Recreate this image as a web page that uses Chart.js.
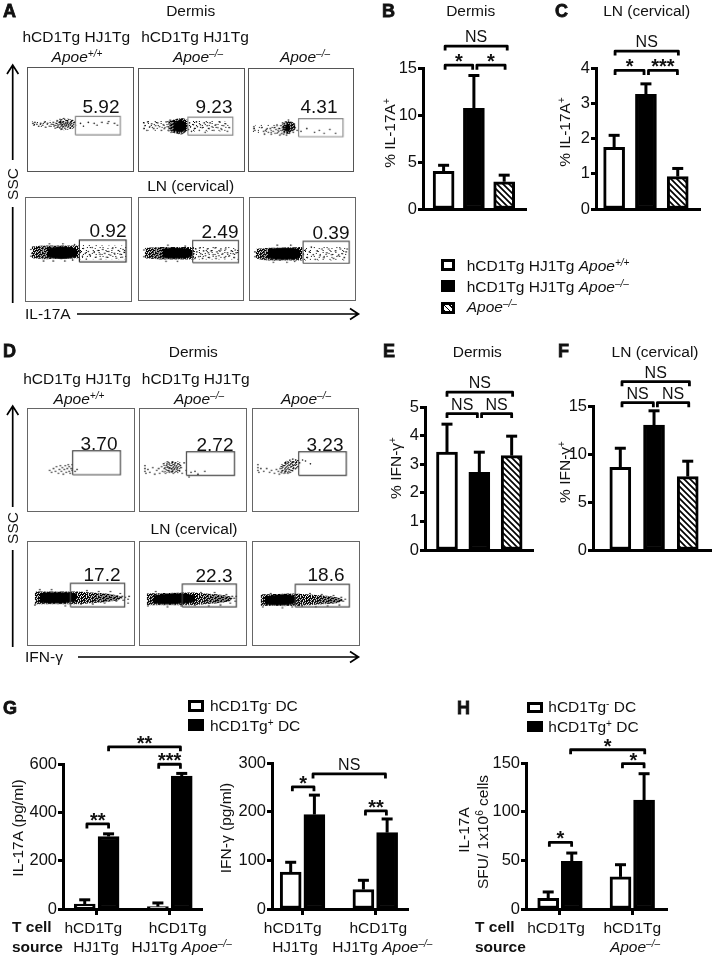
<!DOCTYPE html>
<html>
<head>
<meta charset="utf-8">
<script src="https://cdn.jsdelivr.net/npm/chart.js@4"></script>
<style>
  html, body { margin: 0; background: #fff; }
  #page { position: relative; width: 713px; height: 960px; overflow: hidden; font-family: "Liberation Sans", Arial, sans-serif; color: #111; }
  canvas { position: absolute; }
  .t { position: absolute; white-space: nowrap; line-height: 1; font-size: 15.5px; z-index: 5; }
  .t sup { font-size: 65%; line-height: 0; vertical-align: 0.5em; }
  .letter { font-weight: bold; font-size: 18px; -webkit-text-stroke: 0.8px #111; }
  .sw { position: absolute; box-sizing: border-box; border: 3px solid #000; background: #fff; }
  svg { position: absolute; left: 0; top: 0; z-index: 4; }
</style>
</head>
<body>
<div id="page">
<svg width="713" height="960" fill="none" stroke="#000" stroke-width="1.7">
  <path d="M12.7 303V207M12.7 160V66M7 74L12.7 65L18.4 74"/>
  <path d="M77 314H358M350 308.5L358.5 314L350 319.5"/>
  <path d="M12.7 647V550M12.7 507V407M7 415L12.7 406L18.4 415"/>
  <path d="M78 657H358M350 651.5L358.5 657L350 662.5"/>
</svg>
</div>
<script>
const page = document.getElementById('page');

// bar values and error bar tops
const tickIl17Dermis = [0, 5, 10, 15];
const il17Dermis = [4.0, 10.7, 2.9];
const il17DermisErr = [4.65, 14.2, 3.6];

const tickIl17Ln = [0, 1, 2, 3, 4];
const il17Ln = [1.75, 3.25, 0.92];
const il17LnErr = [2.09, 3.55, 1.15];

const tickIfnDermis = [0, 1, 2, 3, 4, 5];
const ifnDermis = [3.42, 2.72, 3.3];
const ifnDermisErr = [4.4, 3.42, 3.98];

const tickIfnLn = [0, 5, 10, 15];
const ifnLn = [8.6, 13.0, 7.65];
const ifnLnErr = [10.6, 14.5, 9.25];

const tickIl17Pg = [0, 200, 400, 600];
const il17PgNeg = [20, 10];
const il17PgNegErr = [38, 25];
const il17PgPos = [300, 550];
const il17PgPosErr = [311, 561];

const tickIfnPg = [0, 100, 200, 300];
const ifnPgNeg = [76, 40];
const ifnPgNegErr = [96, 59];
const ifnPgPos = [194, 157];
const ifnPgPosErr = [234, 185];

const tickSfu = [0, 50, 100, 150];
const sfuNeg = [11, 33];
const sfuNegErr = [17.5, 45.5];
const sfuPos = [49, 112];
const sfuPosErr = [57.5, 139];

// flow plots, x and y in percent of the plot
const a1Dots = [[1,46],[2,44],[3,47],[5,45],[7,43],[9,46],[11,44],[13,47],[14,42],[16,46],[18,43],[20,45],[22,47],[23,44],[24,41],[25,46],[26,49],[27,44],[27,42],[28,47],[29,45],[29,50],[30,43],[30,47],[31,40],[31,45],[32,48],[32,43],[33,46],[33,51],[34,44],[34,41],[35,47],[35,43],[36,49],[36,45],[37,42],[37,47],[38,44],[38,50],[39,46],[39,41],[40,48],[40,44],[41,46],[42,43],[42,49],[43,45],[44,47],[45,44],[50,46],[53,43],[58,47],[64,46],[67,44],[72,47],[78,46],[79,48],[85,46],[88,44]];
const a2Dots = [[1,47],[1,41],[2,44],[4,39],[5,48],[7,43],[9,46],[11,41],[13,44],[15,47],[17,43],[19,39],[21,45],[22,41],[24,48],[25,43],[26,39],[27,46],[28,50],[29,37],[46,44],[47,40],[48,47],[49,43],[50,38],[52,45],[53,41],[55,48],[56,43],[58,39],[59,45],[61,42],[63,47],[64,37],[66,44],[68,41],[69,47],[71,43],[73,39],[75,45],[77,42],[79,48],[81,40],[83,44],[85,46],[87,38],[89,42]];
const a3Dots = [[1,43],[1,41],[2,39],[9,42],[11,38],[12,35],[14,40],[16,37],[18,41],[19,35],[21,38],[22,42],[23,36],[24,40],[25,44],[26,37],[27,41],[28,34],[29,39],[29,44],[30,36],[31,42],[31,47],[32,35],[33,46],[34,48],[35,34],[36,47],[37,50],[38,36],[39,44],[39,39],[40,47],[41,41],[42,37],[43,45],[44,42],[46,39],[50,38],[56,41],[64,37],[69,39],[74,36],[80,40],[86,36]];
const a4Dots = [[1,43],[1,50],[2,46],[52,47],[54,43],[55,51],[57,46],[58,40],[60,48],[62,44],[64,52],[66,47],[68,42],[70,49],[72,45],[73,40],[75,50],[77,46],[79,42],[81,48],[83,44],[85,51],[87,46],[89,41],[91,49],[93,45],[95,42],[96,50],[97,47],[14,38],[24,38],[36,38],[44,39],[20,56],[34,56],[46,55]];
const a5Dots = [[1,42],[1,49],[53,45],[54,40],[55,50],[56,47],[58,42],[59,51],[60,45],[62,40],[63,48],[65,43],[67,50],[68,46],[69,41],[71,48],[73,44],[75,51],[76,40],[77,47],[79,43],[81,49],[83,45],[85,41],[86,50],[88,46],[90,43],[92,48],[94,45],[95,41],[96,49],[97,46],[24,37],[36,37],[26,54],[44,53]];
const a6Dots = [[1,42],[1,47],[51,44],[53,49],[55,41],[57,47],[59,52],[61,44],[63,39],[65,48],[68,43],[70,50],[72,41],[75,46],[77,50],[80,44],[82,40],[84,48],[87,43],[89,50],[91,45],[93,41],[95,47],[96,50],[20,36],[34,36],[42,37],[24,54],[38,54]];
const d1Dots = [[18,39],[20,37],[22,41],[24,38],[25,43],[27,36],[28,40],[29,44],[30,38],[31,42],[32,35],[33,40],[34,44],[35,37],[36,41],[37,45],[38,38],[38,43],[39,36],[40,41],[41,39],[41,45],[44,38],[46,40]];
const d2Dots = [[1,38],[1,41],[1,44],[2,36],[4,40],[6,37],[9,42],[11,35],[13,39],[15,41],[16,36],[18,43],[19,38],[20,46],[21,41],[22,36],[23,44],[24,39],[24,48],[25,42],[26,37],[26,46],[27,41],[28,44],[28,38],[29,48],[30,42],[30,36],[31,45],[31,40],[32,47],[33,43],[33,38],[34,41],[35,46],[36,39],[37,44],[38,42],[39,36],[41,47],[43,39],[46,32],[48,37],[52,38],[55,35],[62,38]];
const d3Dots = [[1,39],[1,42],[1,45],[2,37],[4,41],[7,38],[10,41],[13,37],[15,39],[18,36],[20,40],[22,38],[23,35],[24,41],[25,37],[26,43],[27,39],[28,36],[28,44],[29,41],[30,38],[30,46],[31,43],[32,36],[32,48],[33,40],[33,45],[34,37],[34,50],[35,43],[36,47],[36,39],[37,51],[37,44],[38,41],[38,48],[39,45],[40,50],[41,42],[44,47],[47,50],[50,49],[55,46]];
const d4Dots = [[3,38],[8,54],[20,54],[34,37],[50,39],[56,53],[62,39],[68,52],[74,40],[80,52],[86,42],[90,50],[92,47],[93,43],[95,46],[98,40],[98,44],[99,47]];
const d5Dots = [[4,37],[12,52],[24,36],[38,37],[52,38],[58,51],[66,37],[72,51],[78,38],[84,49],[88,40],[90,47],[92,45],[93,42],[94,47]];
const d6Dots = [[6,36],[14,50],[26,35],[36,36],[46,37],[54,50],[60,36],[66,49],[72,37],[78,48],[84,38],[86,46],[88,42],[90,44]];

// dense parts of the clouds as [x, low, high]
const a2Cloud = [[31,41,45],[34,38,48],[38,37,50],[42,38,49],[45,41,46]];
const a3Cloud = [[33,39,43],[35,38,44],[37,38,46],[39,41,43]];
const a4Cloud = [[18,42,51],[24,41,52],[32,40,53],[42,41,52],[49,43,50]];
const a5Cloud = [[20,41,50],[30,40,51],[40,40,51],[48,41,50],[52,43,48]];
const a6Cloud = [[14,40,50],[25,39,51],[38,39,51],[46,40,50],[48,42,48]];
const d4Cloud = [[8,41,50],[15,40,51],[30,40,51],[40,41,51],[45,42,50]];
const d5Cloud = [[10,40,48],[18,39,49],[30,39,50],[42,40,50],[52,41,48]];
const d6Cloud = [[8,39,47],[15,38,48],[28,38,49],[36,39,48],[40,41,46]];

const a2Dense = [[26,41,49],[30,37,50],[40,35,52],[46,39,50]];
const a3Dense = [[30,38,45],[36,35,49],[41,38,48],[44,40,46]];
const a4Dense = [[2,41,53],[14,40,54],[51,41,54]];
const a5Dense = [[2,40,51],[18,39,52],[53,39,52]];
const a6Dense = [[2,40,50],[12,38,51],[50,38,52]];
const d4Dense = [[3,39,52],[46,39,52],[60,40,51],[75,41,50],[88,43,48],[92,45,46]];
const d5Dense = [[3,38,50],[50,38,51],[62,39,50],[76,40,49],[88,42,47],[90,44,45]];
const d6Dense = [[4,37,49],[38,37,50],[52,38,49],[68,39,48],[82,40,46],[87,42,44]];

const a1Mid = [[24,41,49],[30,39,51],[36,39,51],[44,41,49]];
const d2Mid = [[20,37,47],[33,36,49],[38,37,47]];
const d3Mid = [[24,36,46],[33,36,50],[40,40,51],[44,44,50]];

const a1Faint = [[0,43,48],[24,41,49]];
const a2Faint = [[0,39,49],[26,38,50],[46,38,50],[90,38,48]];
const a3Faint = [[0,37,44],[30,35,46]];
const a4Faint = [[51,40,55],[99,40,54]];
const a5Faint = [[53,39,53],[99,39,53]];
const a6Faint = [[50,38,53],[97,38,52]];

// speckle tiles for the flow clouds
const denseTile = ['#.##.#.###.', '.###.##.#.#', '##.#.####.#', '#.####.#.##', '.##.#.###.#', '####.##.#.#', '#.#.###.###', '.###.#.##.#', '##.###.#.##'];
const midTile = ['#..#...#..#', '..#..#....#', '#....#.#...', '..#.#...#.#', '.#....#....', '#..#.#..#..', '..#....#..#', '.#..#.....#', '#....#.#...'];
const faintTile = ['....#........', '.........#...', '..#..........', '......#.....#', '.............', '#.........#..', '.....#.......', '.............', '...#.....#...'];

function speckle(tile) {
  const c = document.createElement('canvas');
  c.width = tile[0].length; c.height = tile.length;
  const g = c.getContext('2d');
  g.fillStyle = '#000';
  tile.forEach((row, y) => [...row].forEach((ch, x) => { if (ch === '#') g.fillRect(x, y, 1, 1); }));
  return g.createPattern(c, 'repeat');
}
const denseFill = speckle(denseTile), midFill = speckle(midTile), faintFill = speckle(faintTile);

function hatch() {
  const c = document.createElement('canvas');
  c.width = 6; c.height = 6;
  const g = c.getContext('2d');
  g.fillStyle = '#fff';
  g.fillRect(0, 0, 6, 6);
  g.strokeStyle = '#000';
  g.lineWidth = 1.7;
  g.beginPath();
  g.moveTo(-3, 3); g.lineTo(3, 9);
  g.moveTo(0, 0); g.lineTo(6, 6);
  g.moveTo(3, -3); g.lineTo(9, 3);
  g.stroke();
  return g.createPattern(c, 'repeat');
}
const hatchFill = hatch();

// error bars and significance brackets
Chart.register({
  id: 'barMarks',
  afterDatasetsDraw(chart, args, opts) {
    const ctx = chart.ctx;
    const sx = chart.scales.x, sy = chart.scales.y;
    ctx.save();
    ctx.strokeStyle = '#000';
    ctx.fillStyle = '#111';
    chart.data.datasets.forEach((ds, di) => {
      if (!ds.err) return;
      chart.getDatasetMeta(di).data.forEach((bar, i) => {
        const top = sy.getPixelForValue(ds.err[i]);
        ctx.lineWidth = 3;
        ctx.beginPath();
        ctx.moveTo(bar.x, bar.y);
        ctx.lineTo(bar.x, top);
        ctx.stroke();
        ctx.beginPath();
        ctx.moveTo(bar.x - 5.5, top);
        ctx.lineTo(bar.x + 5.5, top);
        ctx.stroke();
      });
    });
    ctx.textAlign = 'center';
    (opts.brackets || []).forEach((b) => {
      const x0 = sx.getPixelForValue(b[0]), x1 = sx.getPixelForValue(b[1]), y = sy.getPixelForValue(b[2]);
      ctx.lineWidth = 2.8;
      ctx.lineJoin = 'round';
      ctx.beginPath();
      ctx.moveTo(x0, y + 4.5);
      ctx.lineTo(x0, y);
      ctx.lineTo(x1, y);
      ctx.lineTo(x1, y + 4.5);
      ctx.stroke();
      const cx = (x0 + x1) / 2;
      if (b[3] === 'NS') {
        ctx.font = '16px "Liberation Sans"';
        ctx.fillText(b[3], cx, y - 4);
      } else {
        ctx.font = 'bold 20px "Liberation Sans"';
        ctx.fillText(b[3], cx, y + 3);
      }
    });
    ctx.restore();
  }
});

function addCanvas(left, top, w, h) {
  const c = document.createElement('canvas');
  c.width = w; c.height = h;
  c.style.left = left + 'px';
  c.style.top = top + 'px';
  c.style.width = w + 'px';
  c.style.height = h + 'px';
  page.appendChild(c);
  return c;
}

function barChart(box, xMin, xMax, datasets, yMax, yTicks, xTicks, brackets) {
  const [left, right, top, bottom] = box;
  const padL = 48, padT = 66, padB = 18, padR = 6;
  const xH = xTicks ? 8 : 2;
  const c = addCanvas(left - padL, top - padT, right - left + padL + padR, bottom - top + padT + padB);
  new Chart(c, {
    type: 'bar',
    data: { datasets },
    options: {
      responsive: false,
      animation: false,
      devicePixelRatio: 1,
      layout: { padding: { top: padT, bottom: padB - xH, right: padR, left: 0 } },
      datasets: { bar: { grouped: false, barThickness: 21, borderWidth: 3, borderColor: '#000', borderSkipped: false } },
      plugins: { legend: { display: false }, tooltip: { enabled: false }, barMarks: { brackets } },
      scales: {
        x: {
          type: 'linear', min: xMin, max: xMax, offset: false,
          afterBuildTicks: (s) => { s.ticks = (xTicks || []).map((v) => ({ value: v })); },
          afterFit: (s) => { s.height = xH; },
          ticks: { display: false, autoSkip: false },
          grid: xTicks ? { offset: false, drawOnChartArea: false, tickLength: 6, tickWidth: 3, color: '#000' } : { display: false, offset: false },
          border: { display: true, color: '#000', width: 3 }
        },
        y: {
          min: 0, max: yMax,
          afterBuildTicks: (s) => { s.ticks = yTicks.map((v) => ({ value: v })); },
          afterFit: (s) => { s.width = padL; },
          ticks: { color: '#111', padding: 1, font: { family: '"Liberation Sans"', size: 16.5 } },
          grid: { drawOnChartArea: false, tickLength: 5, tickWidth: 3, color: '#000' },
          border: { display: true, color: '#000', width: 3 }
        }
      }
    }
  });
}

function threeBars(vals, err) {
  return [{ data: vals.map((v, i) => ({ x: i, y: v })), err, backgroundColor: ['#fff', '#000', hatchFill] }];
}
function pairBars(neg, negErr, pos, posErr) {
  return [
    { data: neg.map((v, i) => ({ x: i - 0.163, y: v })), err: negErr, backgroundColor: '#fff' },
    { data: pos.map((v, i) => ({ x: i + 0.163, y: v })), err: posErr, backgroundColor: '#000' }
  ];
}

barChart([423, 526, 67.7, 209], -0.68, 2.72, threeBars(il17Dermis, il17DermisErr), 15, tickIl17Dermis, null,
  [[0.05, 2.1, 17.33, 'NS'], [0.05, 0.96, 15.3, '*'], [1.1, 2.03, 15.3, '*']]);
barChart([596, 700, 67.7, 209], -0.57, 2.7, threeBars(il17Ln, il17LnErr), 4, tickIl17Ln, null,
  [[0.03, 2.02, 4.48, 'NS'], [0.03, 0.94, 3.93, '*'], [1.08, 1.99, 3.93, '***']]);
barChart([425, 533, 406.7, 550], -0.68, 2.66, threeBars(ifnDermis, ifnDermisErr), 5, tickIfnDermis, null,
  [[0, 2.03, 5.52, 'NS'], [0, 0.94, 4.77, 'NS'], [1.07, 2, 4.77, 'NS']]);
barChart([592.7, 710.7, 406, 550], -0.81, 2.69, threeBars(ifnLn, ifnLnErr), 15, tickIfnLn, null,
  [[0.05, 2.05, 17.53, 'NS'], [0.05, 0.98, 15.35, 'NS'], [1.1, 2.03, 15.35, 'NS']]);
barChart([62.7, 201.7, 764, 909.3], -0.46, 1.44, pairBars(il17PgNeg, il17PgNegErr, il17PgPos, il17PgPosErr), 600, tickIl17Pg, [0, 1],
  [[-0.133, 0.163, 352, '**'], [0.848, 1.145, 599, '***'], [0.163, 1.145, 671, '**']]);
barChart([271.7, 408.3, 762.7, 909], -0.42, 1.45, pairBars(ifnPgNeg, ifnPgNegErr, ifnPgPos, ifnPgPosErr), 300, tickIfnPg, [0, 1],
  [[-0.14, 0.157, 251, '*'], [0.144, 1.14, 277.5, 'NS'], [0.865, 1.153, 201.6, '**']]);
barChart([526, 667.3, 762.7, 909.3], -0.47, 1.48, pairBars(sfuNeg, sfuNegErr, sfuPos, sfuPosErr), 150, tickSfu, [0, 1],
  [[-0.147, 0.161, 68.5, '*'], [0.147, 1.172, 163.6, '*'], [0.864, 1.163, 149.3, '*']]);

function bandSets(band, fill) {
  const line = { showLine: true, borderWidth: 0, pointRadius: 0, tension: 0.2, backgroundColor: fill };
  return [
    { ...line, data: band.map((p) => ({ x: p[0], y: p[2] })), fill: '+1' },
    { ...line, data: band.map((p) => ({ x: p[0], y: p[1] })), fill: false }
  ];
}

// layers go from the top one down, each is [band, fill]
function flowChart(box, edge, gate, gateColor, dots, layers) {
  const [x0, x1, y0, y1] = box;
  const w = Math.round(x1 - x0), h = Math.round(y1 - y0);
  const c = addCanvas(x0, y0, w, h);
  c.style.border = '1.3px solid ' + edge;
  const rect = [[gate[0], gate[2]], [gate[1], gate[2]], [gate[1], gate[3]], [gate[0], gate[3]], [gate[0], gate[2]]];
  const datasets = [
    { data: rect.map((p) => ({ x: p[0], y: p[1] })), showLine: true, borderColor: gateColor, borderWidth: 1.2, pointRadius: 0, fill: false },
    { data: dots.map((p) => ({ x: p[0], y: p[1] })), pointRadius: 0.8, pointBackgroundColor: '#111', pointBorderWidth: 0, showLine: false }
  ];
  (layers || []).forEach((l) => datasets.push(...bandSets(l[0], l[1])));
  new Chart(c, {
    type: 'scatter',
    data: { datasets },
    options: {
      responsive: false,
      animation: false,
      devicePixelRatio: 1,
      plugins: { legend: { display: false }, tooltip: { enabled: false } },
      scales: { x: { display: false, min: 0, max: 100 }, y: { display: false, min: 0, max: 100 } }
    }
  });
}

flowChart([27, 134, 67, 172], '#555', [44.8, 91, 33.8, 53.3], '#888', a1Dots, [[a1Mid, midFill], [a1Faint, faintFill]]);
flowChart([138, 245, 68, 172], '#555', [46.3, 92.5, 33.9, 53], '#888', a2Dots, [[a2Cloud, '#000'], [a2Dense, denseFill], [a2Faint, faintFill]]);
flowChart([248, 354, 68, 172], '#555', [47.5, 93.7, 32.3, 51.4], '#888', a3Dots, [[a3Cloud, '#000'], [a3Dense, denseFill], [a3Faint, faintFill]]);
flowChart([25, 132, 197, 302], '#666', [50.9, 99, 36.9, 59.9], '#333', a4Dots, [[a4Cloud, '#000'], [a4Dense, denseFill], [a4Faint, faintFill]]);
flowChart([138, 244, 197, 301], '#666', [51.7, 99.4, 35.6, 59], '#555', a5Dots, [[a5Cloud, '#000'], [a5Dense, denseFill], [a5Faint, faintFill]]);
flowChart([249, 356, 197, 301], '#666', [50.6, 98.1, 34.9, 58.3], '#555', a6Dots, [[a6Cloud, '#000'], [a6Dense, denseFill], [a6Faint, faintFill]]);
flowChart([27, 135, 408, 512], '#666', [41.5, 90.2, 34.4, 59.8], '#444', d1Dots);
flowChart([139, 247, 408, 512], '#666', [43.4, 92.3, 33.8, 58.8], '#444', d2Dots, [[d2Mid, midFill]]);
flowChart([252, 359, 408, 512], '#666', [43, 92, 33.8, 58.8], '#444', d3Dots, [[d3Mid, midFill]]);
flowChart([27, 135, 541, 646], '#666', [39.3, 94.5, 35.9, 60.6], '#444', d4Dots, [[d4Cloud, '#000'], [d4Dense, denseFill]]);
flowChart([139, 247, 541, 646], '#666', [39.1, 94.2, 35.9, 60], '#444', d5Dots, [[d5Cloud, '#000'], [d5Dense, denseFill]]);
flowChart([252, 360, 541, 646], '#666', [39.1, 94.2, 35.9, 59.7], '#444', d6Dots, [[d6Cloud, '#000'], [d6Dense, denseFill]]);

// text
function label(x, y, html, opts) {
  const o = opts || {};
  const d = document.createElement('div');
  d.className = 't' + (o.cls ? ' ' + o.cls : '');
  d.innerHTML = html;
  d.style.left = x + 'px';
  d.style.top = y + 'px';
  if (o.size) d.style.fontSize = o.size + 'px';
  if (o.bold) d.style.fontWeight = 'bold';
  d.style.transform = o.left ? 'translate(0,-50%)' : 'translate(-50%,-50%)' + (o.rot ? ' rotate(-90deg)' : '');
  page.appendChild(d);
}
const apoe = (s) => `<i>Apoe<sup>${s}</sup></i>`;
const wt = '+/+', ko = '–/–';

[['A', 3, 11], ['B', 382, 11], ['C', 555, 11], ['D', 3, 351], ['E', 383, 351], ['F', 558, 351], ['G', 3, 708], ['H', 457, 708]]
  .forEach((l) => label(l[1], l[2], l[0], { cls: 'letter', left: true }));

[[190.7, 11, 'Dermis'], [470.7, 11, 'Dermis'], [646.7, 11, 'LN (cervical)'], [190.7, 186, 'LN (cervical)'],
 [193.3, 352, 'Dermis'], [477.3, 352, 'Dermis'], [655, 352, 'LN (cervical)'], [194, 529, 'LN (cervical)'],
 [76.3, 37, 'hCD1Tg HJ1Tg'], [195, 37, 'hCD1Tg HJ1Tg'], [77, 379, 'hCD1Tg HJ1Tg'], [195.7, 379, 'hCD1Tg HJ1Tg'],
 [77, 57, apoe(wt)], [198, 57, apoe(ko)], [305, 57, apoe(ko)],
 [79, 399, apoe(wt)], [199, 399, apoe(ko)], [306, 399, apoe(ko)]]
  .forEach((l) => label(l[0], l[1], l[2]));

[[101, 106, '5.92'], [214, 106, '9.23'], [319, 106, '4.31'], [108, 230, '0.92'], [220, 231, '2.49'], [331, 232, '0.39'],
 [99, 443, '3.70'], [215, 444, '2.72'], [325, 444, '3.23'], [102, 574, '17.2'], [214, 575, '22.3'], [326, 574, '18.6']]
  .forEach((l) => label(l[0], l[1], l[2], { size: 19 }));

label(12.7, 184, 'SSC', { rot: true });
label(12.7, 528, 'SSC', { rot: true });
label(25, 314, 'IL-17A', { left: true });
label(25, 657, 'IFN-γ', { left: true });

[[390, 133, '% IL-17A<sup>+</sup>'], [565, 132, '% IL-17A<sup>+</sup>'], [396, 468, '% IFN-γ<sup>+</sup>'], [565, 472, '% IFN-γ<sup>+</sup>'],
 [18.3, 828, 'IL-17A (pg/ml)'], [225.7, 828, 'IFN-γ (pg/ml)'], [464, 830, 'IL-17A'], [483, 832, 'SFU/ 1x10<sup>6</sup> cells']]
  .forEach((l) => label(l[0], l[1], l[2], { rot: true }));

// x axis group labels
[[93.3, 928, 'hCD1Tg'], [96, 947, 'HJ1Tg'], [177.7, 928, 'hCD1Tg'], [181.7, 947, 'HJ1Tg ' + apoe(ko)],
 [292.7, 928, 'hCD1Tg'], [295, 947, 'HJ1Tg'], [378.3, 928, 'hCD1Tg'], [382.3, 947, 'HJ1Tg ' + apoe(ko)],
 [556, 928, 'hCD1Tg'], [632.3, 928, 'hCD1Tg'], [635, 947, apoe(ko)]]
  .forEach((l) => label(l[0], l[1], l[2]));
[[12, 927, 'T cell'], [12, 947, 'source'], [475, 927, 'T cell'], [475, 947, 'source']]
  .forEach((l) => label(l[0], l[1], l[2], { left: true, bold: true }));

// legends
function swatch(x, y, w, h, fill) {
  const s = document.createElement('div');
  s.className = 'sw';
  s.style.cssText = `left:${x}px;top:${y}px;width:${w}px;height:${h}px;background:${fill}`;
  page.appendChild(s);
}
const hatchCss = 'repeating-linear-gradient(45deg,#000 0 1.3px,#fff 1.3px 3.6px)';
swatch(441, 259, 14, 12, '#fff');
swatch(441, 280, 14, 12, '#000');
swatch(441, 302, 14, 12, hatchCss);
label(466.7, 265.7, 'hCD1Tg HJ1Tg ' + apoe(wt), { left: true });
label(466.7, 286.7, 'hCD1Tg HJ1Tg ' + apoe(ko), { left: true });
label(466.7, 307, apoe(ko), { left: true });

swatch(188, 700, 16, 12, '#fff');
swatch(188, 719, 16, 12, '#000');
label(210, 706, 'hCD1Tg<sup>-</sup> DC', { left: true });
label(210, 726, 'hCD1Tg<sup>+</sup> DC', { left: true });
swatch(527, 702, 16, 11, '#fff');
swatch(527, 721, 16, 11, '#000');
label(548.3, 706.7, 'hCD1Tg<sup>-</sup> DC', { left: true });
label(548.3, 726.7, 'hCD1Tg<sup>+</sup> DC', { left: true });
</script>
</body>
</html>
